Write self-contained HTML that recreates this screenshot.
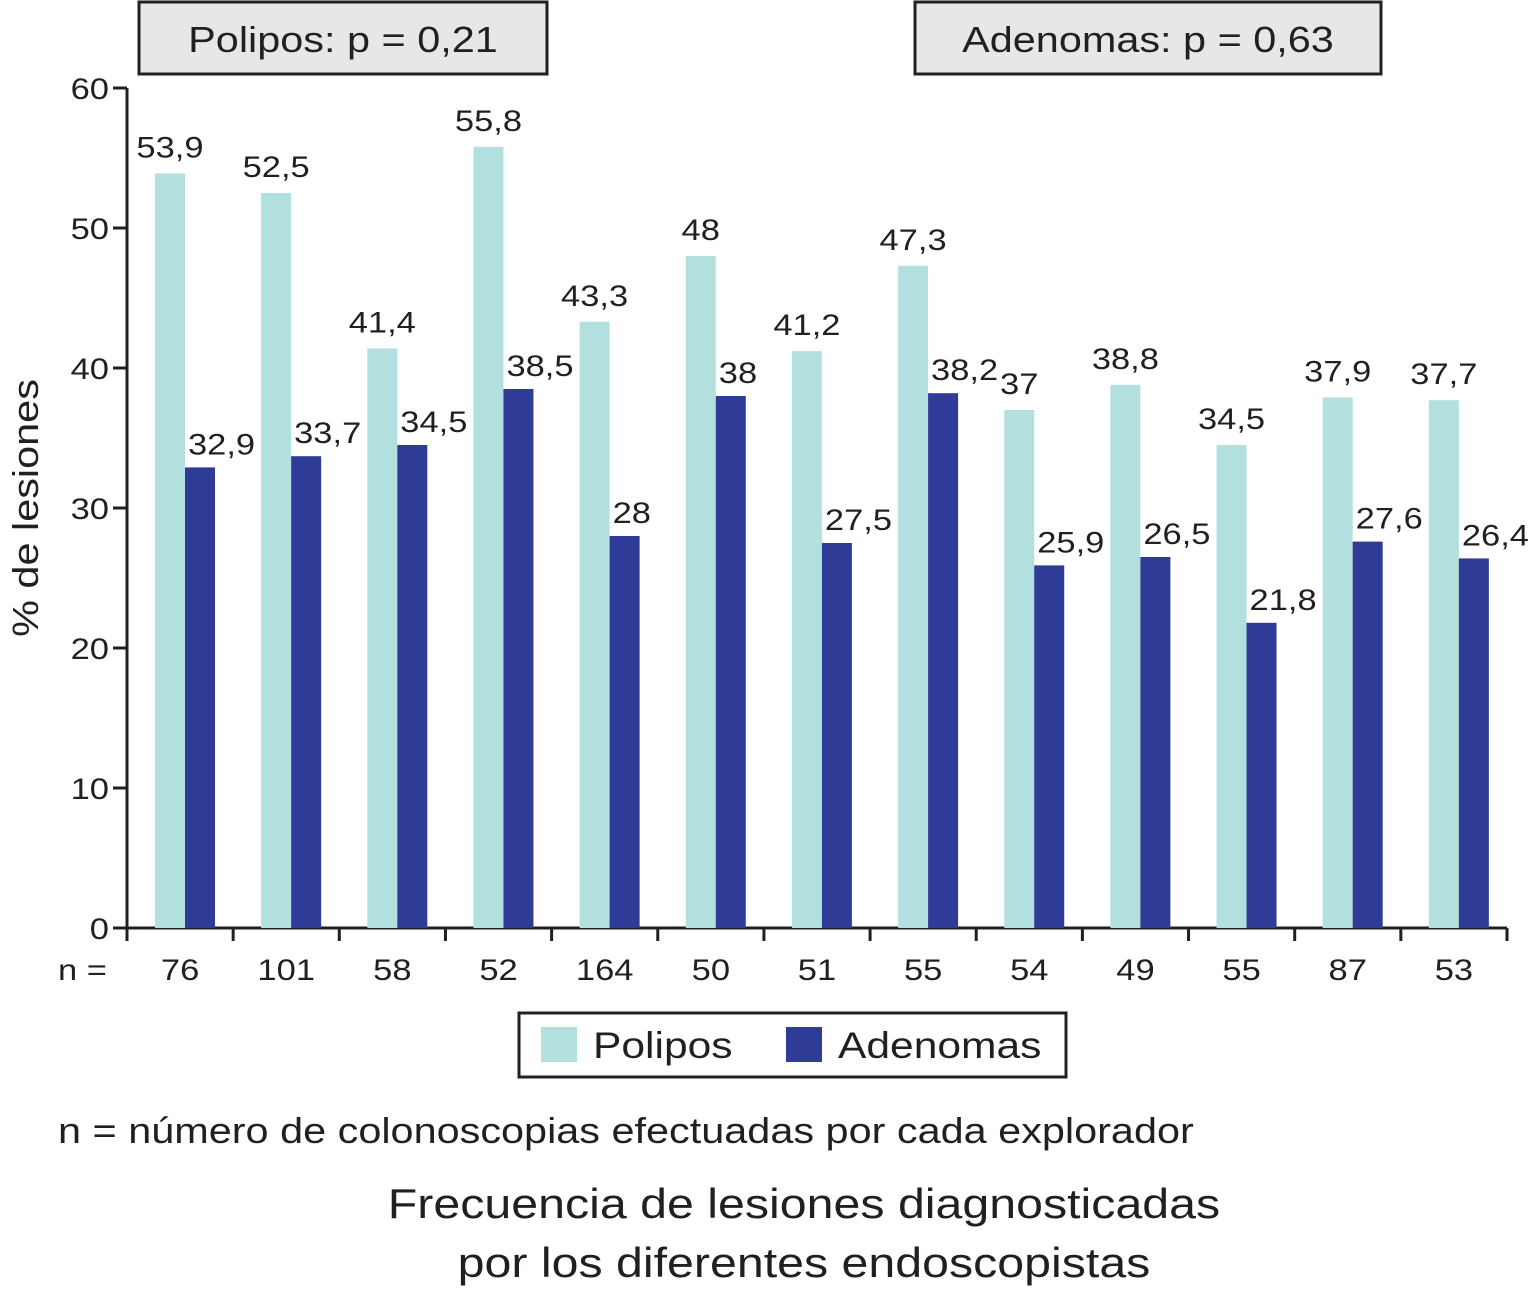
<!DOCTYPE html>
<html><head><meta charset="utf-8"><style>
body{margin:0;background:#fff;}
svg text{font-family:"Liberation Sans",sans-serif;fill:#231f20;}
</style></head><body>
<svg id="chart" width="1534" height="1289" viewBox="0 0 1534 1289" xmlns="http://www.w3.org/2000/svg">
<g><rect x="139" y="2" width="408" height="72" fill="#e6e7e8" stroke="#231f20" stroke-width="3"/><text x="343" y="52" font-size="36" text-anchor="middle">Polipos: p = 0,21</text></g>
<g><rect x="915" y="2" width="466" height="72" fill="#e6e7e8" stroke="#231f20" stroke-width="3"/><text x="1148" y="52" font-size="36" text-anchor="middle">Adenomas: p = 0,63</text></g>
<text transform="translate(38,508) rotate(-90)" font-size="36" text-anchor="middle">% de lesiones</text>
<g id="yaxis"></g>
<g id="xaxis"></g>
<g id="bars"></g>
<g>
<rect x="519" y="1013" width="547" height="64" fill="#fff" stroke="#231f20" stroke-width="3"/>
<rect x="541" y="1027" width="36" height="35" fill="#b2e0de"/>
<text x="593" y="1058" font-size="37">Polipos</text>
<rect x="786" y="1027" width="36" height="35" fill="#2e3b97"/>
<text x="838" y="1058" font-size="37">Adenomas</text>
</g>
<text x="58" y="1143" font-size="36">n = número de colonoscopias efectuadas por cada explorador</text>
<text x="804" y="1218" font-size="42" text-anchor="middle">Frecuencia de lesiones diagnosticadas</text>
<text x="804" y="1277" font-size="42" text-anchor="middle">por los diferentes endoscopistas</text>
</svg>
<script>
const nLabels=["76","101","58","52","164","50","51","55","54","49","55","87","53"];
const polipos=[53.9,52.5,41.4,55.8,43.3,48,41.2,47.3,37,38.8,34.5,37.9,37.7];
const adenomas=[32.9,33.7,34.5,38.5,28,38,27.5,38.2,25.9,26.5,21.8,27.6,26.4];
const yTicks=[0,10,20,30,40,50,60];
const NS="http://www.w3.org/2000/svg";
const x0=127,x1=1507,yb=928,yt=88,ymax=60;
const gw=(x1-x0)/nLabels.length;
function y(v){return yb-(yb-yt)*v/ymax;}
function gx(i){return x0+i*gw;}
function mk(t,a,p){const e=document.createElementNS(NS,t);for(const k in a)e.setAttribute(k,a[k]);p.appendChild(e);return e;}
const ya=document.getElementById('yaxis'),xa=document.getElementById('xaxis'),bg=document.getElementById('bars');
mk('line',{x1:x0,y1:yt,x2:x0,y2:yb,stroke:'#231f20','stroke-width':3},ya);
yTicks.forEach(t=>{
 const l=mk('line',{x1:x0-14,y1:y(t),x2:x0,y2:y(t),stroke:'#231f20','stroke-width':3},ya);
 
 
 const tx=mk('text',{x:x0-18,y:y(t)+11,'font-size':30,'text-anchor':'end'},ya);tx.textContent=t;
 
 
});
mk('line',{x1:x0,y1:yb,x2:x1,y2:yb,stroke:'#231f20','stroke-width':3},xa);
for(let i=0;i<=nLabels.length;i++){mk('line',{x1:gx(i),y1:yb,x2:gx(i),y2:yb+13,stroke:'#231f20','stroke-width':3},xa);}
const nl=mk('text',{x:58,y:980,'font-size':30},xa);nl.textContent='n =';
nLabels.forEach((n,i)=>{
 const t=mk('text',{x:gx(i)+gw/2,y:980,'font-size':30,'text-anchor':'middle'},xa);t.textContent=n;
 
 
});
const bw=30,off=28;
polipos.forEach((v,i)=>{
 const bx=gx(i)+off;
 const r=mk('rect',{x:bx,y:y(v),width:bw,height:yb-y(v),fill:'#b2e0de'},bg);
 
 
 const t=mk('text',{x:bx+bw/2,y:y(v)-16,'font-size':30,'text-anchor':'middle'},bg);t.textContent=String(v).replace('.',',');
 
 
});
adenomas.forEach((v,i)=>{
 const bx=gx(i)+off+bw;
 const r=mk('rect',{x:bx,y:y(v),width:bw,height:yb-y(v),fill:'#2e3b97'},bg);
 
 
 const t=mk('text',{x:bx+3,y:y(v)-13,'font-size':30},bg);t.textContent=String(v).replace('.',',');
 
 
});
document.querySelectorAll('svg text').forEach(t=>{
 const w=t.getComputedTextLength();
 if(w>0){t.setAttribute('textLength',(w*1.15).toFixed(1));t.setAttribute('lengthAdjust','spacingAndGlyphs');}
});
</script>
</body></html>
